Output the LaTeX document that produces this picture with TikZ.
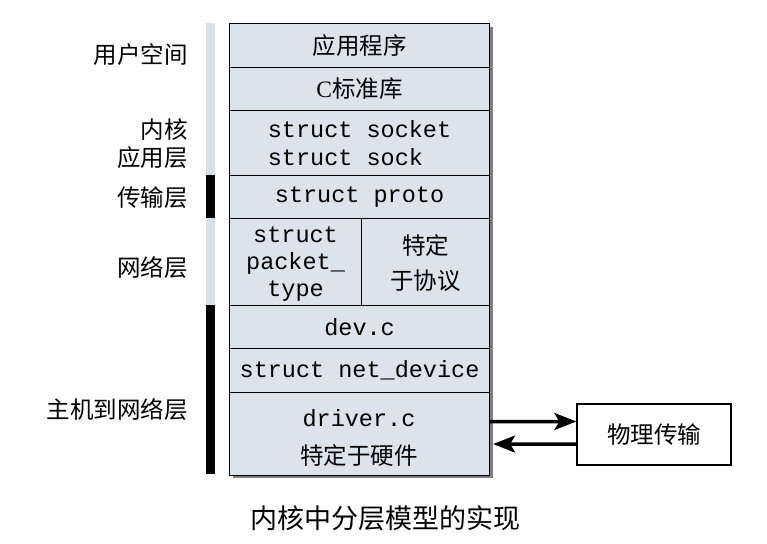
\documentclass[tikz,border=0pt]{standalone}
\usepackage{fontspec}
\setmainfont{Liberation Serif}
\setmonofont{Liberation Mono}
\newfontfamily\cjk{Noto Sans CJK SC}
\usetikzlibrary{arrows.meta}
\definecolor{stackfill}{HTML}{DCE3EA}
\definecolor{barlight}{HTML}{D9E0E8}
\definecolor{shadowgray}{HTML}{7F7F7F}
\begin{document}
\begin{tikzpicture}[x=1pt,y=-1pt,
  row/.style={draw=black, line width=1.1pt, fill=stackfill, anchor=north west, inner sep=0pt, minimum width=260pt},
  zh/.style={font=\cjk\fontsize{23.5}{30}\selectfont},
  mono/.style={font=\ttfamily\fontsize{23.5}{27.5}\selectfont},
  lab/.style={font=\cjk\fontsize{23.5}{28}\selectfont, anchor=east, align=right, inner sep=0pt},
  arr/.style={line width=3.5pt, -{Stealth[length=22pt,width=17pt,inset=5pt]}}]
\useasboundingbox (0,0) rectangle (767,543);
% left bar
\fill[barlight] (206,23) rectangle (215,175);
\fill[black] (206,175) rectangle (215,218);
\fill[barlight] (206,218) rectangle (215,305);
\fill[black] (206,305) rectangle (215,474);
% shadow
\fill[shadowgray] (233,27) rectangle (492.5,478);
% rows
\node[row, minimum height=44pt] (app) at (229,23) {};
\node[zh] (appt) at (app.center) {应用程序};
\node[row, minimum height=43pt] (clib) at (229,67) {};
\node[zh] (clibt) at (clib.center) {{\rmfamily C}标准库};
\node[row, minimum height=65pt] (sock) at (229,110) {};
\node[mono, align=left] (sockt) at (sock.center) {struct socket\\struct sock};
\node[row, minimum height=43pt] (proto) at (229,175) {};
\node[mono] (protot) at (proto.center) {struct proto};
\node[row, minimum height=87pt, minimum width=132pt] (ptype) at (229,218) {};
\node[mono, align=center, font=\ttfamily\fontsize{23.5}{27}\selectfont] (ptypet) at ([yshift=-2pt]ptype.center) {struct\\packet\_\\type};
\node[row, minimum height=87pt, minimum width=128pt] (spec) at (361,218) {};
\node[zh, align=center, font=\cjk\fontsize{23.5}{35}\selectfont] (spect) at ([yshift=-1pt]spec.center) {特定\\于协议};
\node[row, minimum height=43pt] (dev) at (229,305) {};
\node[mono] (devt) at (dev.center) {dev.c};
\node[row, minimum height=44pt] (netdev) at (229,348) {};
\node[mono] (netdevt) at (netdev.center) {struct net\_device};
\node[row, minimum height=83pt] (drv) at (229,392) {};
\node[mono] (drvt) at (359,418) {driver.c};
\node[zh] (drvz) at (359,456) {特定于硬件};
% physical box
\node[draw=black, line width=1.3pt, fill=white, minimum width=154pt, minimum height=61pt, inner sep=0pt, zh] (phys) at (654,434.5) {物理传输};
% arrows
\draw[arr] ([yshift=12.5pt]drv.east) -- ([yshift=13pt]phys.west);
\draw[arr] ([yshift=-9.5pt]phys.west) -- ([xshift=3pt,yshift=-10pt]drv.east);
% left labels
\node[lab] (l1) at (188,55) {用户空间};
\node[lab] (l2) at (188,144) {内核\\应用层};
\node[lab] (l3) at (188,198) {传输层};
\node[lab] (l4) at (188,268) {网络层};
\node[lab] (l5) at (188,410) {主机到网络层};
% caption
\node[font=\cjk\fontsize{27}{30}\selectfont] (cap) at (385,518) {内核中分层模型的实现};
\end{tikzpicture}
\end{document}
